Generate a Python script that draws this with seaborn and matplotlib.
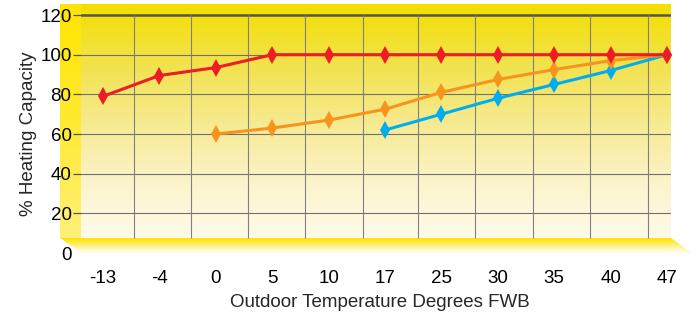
import matplotlib.pyplot as plt
import matplotlib.patches as mpatches
from matplotlib.colors import LinearSegmentedColormap
import numpy as np
import pandas as pd
import seaborn as sns


TEMPS = ["-13", "-4", "0", "5", "10", "17", "25", "30", "35", "40", "47"]
RED_VALUES = [79, 89.5, 93.5, 100, 100, 100, 100, 100, 100, 100, 100]
ORANGE_VALUES = [np.nan, np.nan, 60, 63, 67, 72.5, 81, 87.5, 92.5, 97, 100]
BLUE_VALUES = [np.nan, np.nan, np.nan, np.nan, np.nan, 62, 70, 78, 85, 92, 100]
Y_TICKS = [0, 20, 40, 60, 80, 100, 120]

SERIES_COLORS = {"Blue": "#00AEEF", "Orange": "#F7941D", "Red": "#EE1C25"}

FIG_W, FIG_H = 696, 313
# pixel layout of the pseudo-3D box
X0, DX = 103, 56.4          # pixel x of first category, category spacing
Y0, DY = 253, 1.983         # pixel y of value 0, pixels per unit
BACK_L, BACK_R, BACK_T, BACK_B = 81, 671, 4, 238


def data_x(px):
    return (px - X0) / DX


def data_y(py):
    return (Y0 - py) / DY


def gradient_fill(bg, verts_px, stops):
    # vertical gradient clipped to a polygon, drawn in pixel coordinates
    cmap = LinearSegmentedColormap.from_list("g", stops)
    grad = cmap(np.linspace(0, 1, 256))[:, None, :3]
    xs = [v[0] for v in verts_px]
    ys = [v[1] for v in verts_px]
    img = bg.imshow(grad, extent=(min(xs), max(xs), max(ys), min(ys)),
                    aspect="auto", origin="upper", interpolation="bilinear")
    poly = mpatches.Polygon(verts_px, closed=True, transform=bg.transData)
    img.set_clip_path(poly)
    return img


def main() -> None:
    sns.set_theme(style="white")
    plt.rcParams["font.family"] = ["Liberation Sans", "DejaVu Sans"]

    df = pd.DataFrame({
        "temp": TEMPS * 3,
        "pos": list(range(len(TEMPS))) * 3,
        "capacity": RED_VALUES + ORANGE_VALUES + BLUE_VALUES,
        "series": ["Red"] * len(TEMPS) + ["Orange"] * len(TEMPS) + ["Blue"] * len(TEMPS),
    }).dropna()

    fig = plt.figure(figsize=(FIG_W / 100, FIG_H / 100), dpi=100)

    # background layer in pixel coordinates for the walls and floor
    bg = fig.add_axes([0, 0, 1, 1], zorder=0)
    gradient_fill(bg,
                  [(BACK_L, BACK_T), (BACK_R, BACK_T), (BACK_R, BACK_B), (BACK_L, BACK_B)],
                  ["#F4DF00", "#F2E24A", "#F6EA8E", "#FBF3C8", "#FFFBEA"])
    gradient_fill(bg,
                  [(60, 4), (BACK_L, 4), (BACK_L, BACK_B), (60, BACK_B)],
                  ["#FFE500", "#FFEA30", "#FFF07A"])
    gradient_fill(bg,
                  [(60, BACK_B), (BACK_R, BACK_B), (692, Y0), (BACK_L, Y0)],
                  ["#FFE200", "#FFEB50", "#FFF6B8", "#FFFDF0"])
    bg.set_xlim(0, FIG_W)
    bg.set_ylim(FIG_H, 0)
    bg.axis("off")

    ax = fig.add_axes([BACK_L / FIG_W, 1 - Y0 / FIG_H,
                       (BACK_R - BACK_L) / FIG_W, (Y0 - BACK_T) / FIG_H], zorder=1)
    ax.patch.set_visible(False)

    # grid
    for v in Y_TICKS[1:-1]:
        ax.axhline(v, color="#707070", lw=0.8, zorder=1)
    ax.axhline(Y_TICKS[-1], color="#555555", lw=1.8, zorder=1)
    grid_px = [134, 191, 248, 305, 363, 418, 475, 533, 590, 648]
    ax.vlines([data_x(p) for p in grid_px], data_y(BACK_B), Y_TICKS[-1],
              color="#808080", lw=0.8, zorder=1)

    sns.lineplot(
        data=df, x="pos", y="capacity", hue="series",
        hue_order=["Blue", "Orange", "Red"], palette=SERIES_COLORS,
        marker="d", markersize=9, markeredgewidth=0, linewidth=2.2,
        estimator=None, sort=False, legend=False, ax=ax, zorder=3,
    )

    ax.set_xlim(data_x(BACK_L), data_x(BACK_R))
    ax.set_ylim(0, data_y(BACK_T))
    ax.set_xticks(range(len(TEMPS)), TEMPS)
    ax.set_yticks(Y_TICKS)
    ax.tick_params(axis="x", length=0, pad=12, labelsize=13.5, colors="black")
    ax.tick_params(axis="y", length=5.8, width=0.9, color="#555555", pad=1,
                   labelsize=13.5, labelcolor="black", left=True)
    ax.yaxis.get_major_ticks()[0].tick1line.set_visible(False)
    for spine in ax.spines.values():
        spine.set_visible(False)
    ax.grid(False)

    ax.set_xlabel("Outdoor Temperature Degrees FWB", fontsize=13.5)
    ax.set_ylabel("% Heating Capacity", fontsize=13.5)
    ax.xaxis.set_label_coords((380 - BACK_L) / (BACK_R - BACK_L), -0.163)
    ax.yaxis.set_label_coords((37 - BACK_L) / (BACK_R - BACK_L), (Y0 - 134) / (Y0 - BACK_T))

    fig.savefig("out.png", dpi=100)
    plt.close(fig)


if __name__ == "__main__":
    main()
